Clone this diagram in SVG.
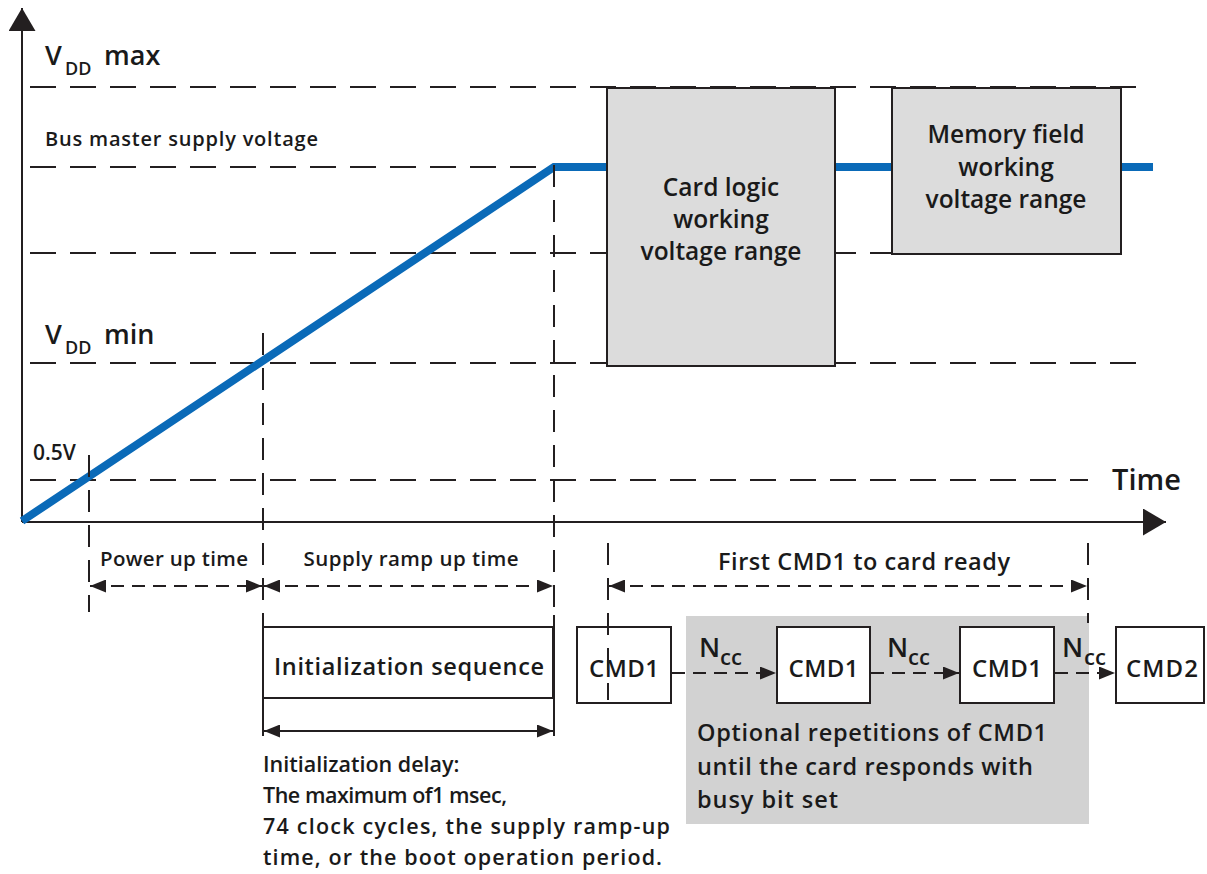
<svg xmlns="http://www.w3.org/2000/svg" width="1207" height="874" viewBox="0 0 1207 874">
<defs>
<style>
.t{font-family:"Open Sans","Liberation Sans",sans-serif;font-weight:600;fill:#1a1a1a}
.ln{stroke:#231f20;stroke-width:2;fill:none}
.hd{stroke:#231f20;stroke-width:2;stroke-dasharray:26 14;fill:none}
.vd{stroke:#231f20;stroke-width:2;stroke-dasharray:22 13;fill:none}
.ad{stroke:#231f20;stroke-width:2;stroke-dasharray:13 8;fill:none}
.box{fill:#dcdcdc;stroke:#231f20;stroke-width:2}
.cmd{fill:#ffffff;stroke:#231f20;stroke-width:2}
</style>
<marker id="ah" markerUnits="userSpaceOnUse" markerWidth="17" markerHeight="13" refX="16" refY="6.5" orient="auto-start-reverse">
<path d="M0,0 L16,6.5 L0,13 z" fill="#231f20"/>
</marker>
<marker id="axh" markerUnits="userSpaceOnUse" markerWidth="24" markerHeight="28" refX="23" refY="13.5" orient="auto">
<path d="M0,0 L23,13.5 L0,27 z" fill="#231f20"/>
</marker>
</defs>
<rect width="1207" height="874" fill="#ffffff"/>

<g id="grid">
<line class="hd" x1="30" y1="87" x2="1143" y2="87"/>
<line class="hd" x1="30" y1="167" x2="552" y2="167"/>
<line class="hd" x1="30" y1="253" x2="893" y2="253"/>
<line class="hd" x1="30" y1="363" x2="1143" y2="363"/>
<line class="hd" x1="30" y1="480" x2="1088" y2="480"/>
</g>

<g id="axes">
<line class="ln" x1="22" y1="522" x2="22" y2="8" stroke-width="2.5" marker-end="url(#axh)"/>
<line class="ln" x1="22" y1="522" x2="1166" y2="522" stroke-width="2.5" marker-end="url(#axh)"/>
</g>

<g id="supply-curve">
<polyline points="22,521 554,167 1153,167" fill="none" stroke="#0a6ab8" stroke-width="8" stroke-linejoin="miter"/>
</g>

<g id="card-logic">
<rect class="box" x="607" y="88" width="228" height="278"/>
<text class="t" font-size="24.5" text-anchor="middle"><tspan x="721" y="196">Card logic</tspan><tspan x="721" y="228">working</tspan><tspan x="721" y="260">voltage range</tspan></text>
</g>

<g id="memory-field">
<rect class="box" x="892" y="88" width="229" height="166"/>
<text class="t" font-size="24.5" text-anchor="middle"><tspan x="1006" y="143">Memory field</tspan><tspan x="1006" y="176">working</tspan><tspan x="1006" y="208">voltage range</tspan></text>
</g>

<g id="labels">
<text class="t" font-size="27" x="45" y="65">V</text>
<text class="t" font-size="18" x="65" y="75">DD</text>
<text class="t" font-size="27" x="104" y="65">max</text>
<text class="t" font-size="20" x="45" y="146" textLength="273">Bus master supply voltage</text>
<text class="t" font-size="27" x="45" y="344">V</text>
<text class="t" font-size="18" x="65" y="354">DD</text>
<text class="t" font-size="27" x="104" y="344">min</text>
<text class="t" font-size="21" x="33" y="460">0.5V</text>
<text class="t" font-size="29" x="1112" y="490">Time</text>
</g>

<g id="optional-region">
<rect x="686" y="616" width="403" height="208" fill="#d2d2d2"/>
<text class="t" font-size="23.5"><tspan x="697" y="741" textLength="350">Optional repetitions of CMD1</tspan><tspan x="697" y="775" textLength="336">until the card responds with</tspan><tspan x="697" y="808" textLength="141">busy bit set</tspan></text>
</g>

<g id="init-sequence">
<rect x="263" y="627" width="290" height="71" fill="#ffffff" class="ln"/>
<text class="t" font-size="23.5" text-anchor="middle" x="409" y="675" textLength="270">Initialization sequence</text>
</g>

<g id="cmd1-a"><rect class="cmd" x="577" y="627" width="94" height="76"/><text class="t" font-size="24" text-anchor="middle" x="624" y="677" textLength="70">CMD1</text></g>
<g id="cmd1-b"><rect class="cmd" x="777" y="627" width="93" height="76"/><text class="t" font-size="24" text-anchor="middle" x="823.5" y="677" textLength="70">CMD1</text></g>
<g id="cmd1-c"><rect class="cmd" x="960" y="627" width="94" height="76"/><text class="t" font-size="24" text-anchor="middle" x="1007" y="677" textLength="70">CMD1</text></g>
<g id="cmd2"><rect class="cmd" x="1116" y="627" width="88" height="76"/><text class="t" font-size="24" text-anchor="middle" x="1162" y="677" textLength="72">CMD2</text></g>

<g id="connectors">
<line class="vd" x1="89" y1="455" x2="89" y2="612"/>
<line class="vd" x1="263" y1="333" x2="263" y2="615"/>
<line class="ln" x1="263" y1="615" x2="263" y2="736"/>
<line class="vd" x1="554" y1="165" x2="554" y2="615"/>
<line class="ln" x1="554" y1="615" x2="554" y2="736"/>
<line class="vd" x1="608" y1="543" x2="608" y2="700"/>
<line class="vd" x1="1088" y1="543" x2="1088" y2="623"/>

<line class="ad" x1="90" y1="586" x2="262" y2="586" stroke-dasharray="14 9" marker-start="url(#ah)" marker-end="url(#ah)"/>
<line class="ad" x1="264" y1="586" x2="553" y2="586" stroke-dasharray="14 9" marker-start="url(#ah)" marker-end="url(#ah)"/>
<line class="ln" x1="264" y1="731" x2="553" y2="731" marker-start="url(#ah)" marker-end="url(#ah)"/>
<line class="ad" x1="609" y1="586" x2="1087" y2="586" stroke-dasharray="14 9" marker-start="url(#ah)" marker-end="url(#ah)"/>

<line class="ad" x1="672" y1="673" x2="776" y2="673" marker-end="url(#ah)"/>
<line class="ad" x1="871" y1="673" x2="959" y2="673" marker-end="url(#ah)"/>
<line class="ad" x1="1055" y1="673" x2="1115" y2="673" marker-end="url(#ah)"/>
</g>

<g id="dimension-labels">
<text class="t" font-size="20.5" text-anchor="middle" x="174" y="566" textLength="148">Power up time</text>
<text class="t" font-size="20.5" text-anchor="middle" x="411" y="566" textLength="215">Supply ramp up time</text>
<text class="t" font-size="23.5" text-anchor="middle" x="864" y="570" textLength="292">First CMD1 to card ready</text>
<text class="t" font-size="27" x="699" y="657">N</text><text class="t" font-size="22" x="720" y="665">cc</text>
<text class="t" font-size="27" x="887" y="657">N</text><text class="t" font-size="22" x="908" y="665">cc</text>
<text class="t" font-size="27" x="1062" y="657">N</text><text class="t" font-size="22" x="1084" y="665">cc</text>
<text class="t" font-size="21.5"><tspan x="263" y="772">Initialization delay:</tspan><tspan x="263" y="803" textLength="244">The maximum of1 msec,</tspan><tspan x="263" y="834" textLength="407">74 clock cycles, the supply ramp-up</tspan><tspan x="263" y="865" textLength="399">time, or the boot operation period.</tspan></text>
</g>
</svg>
